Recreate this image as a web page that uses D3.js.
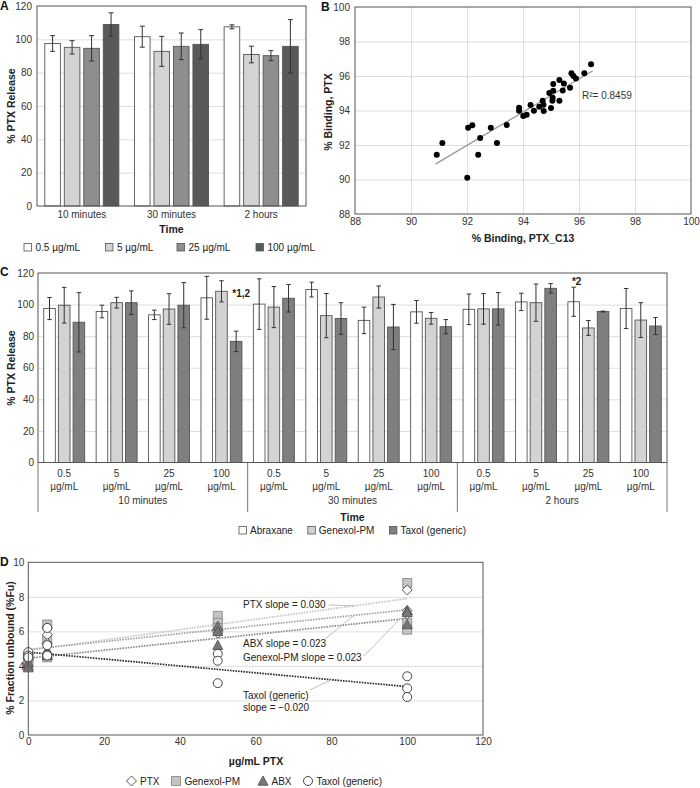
<!DOCTYPE html>
<html><head><meta charset="utf-8">
<script src="https://cdn.jsdelivr.net/npm/d3@7"></script>
<style>
body{margin:0;background:#fff;}
svg{display:block;font-family:"Liberation Sans",Arial,Helvetica,sans-serif;}
</style></head><body>
<svg id="chart" width="700" height="788"></svg>
<script>
// ================= DATA =================
// Panel A
const timeGroupsA = ["10 minutes", "30 minutes", "2 hours"];
const concSeriesA = ["0.5 µg/mL", "5 µg/mL", "25 µg/mL", "100 µg/mL"];
const releaseA_05 = [97.5, 101.6, 107.5];
const releaseA_05_err = [4.7, 6.3, 1.2];
const releaseA_5 = [95.2, 92.8, 90.9];
const releaseA_5_err = [4.0, 9.0, 5.0];
const releaseA_25 = [94.6, 95.8, 90.2];
const releaseA_25_err = [7.6, 8.0, 3.0];
const releaseA_100 = [108.9, 97.0, 95.8];
const releaseA_100_err = [7.0, 8.8, 16.0];
const yTicksA = [0, 20, 40, 60, 80, 100, 120];

// Panel B
const bindingC13 = [90.92, 91.12, 92.01, 92.04, 92.19, 92.40, 92.47, 92.85, 93.07, 93.42, 93.86, 93.86,
  94.01, 94.13, 94.27, 94.39, 94.58, 94.70, 94.74, 94.73, 94.94, 95.00, 95.05, 95.06, 95.08, 95.08,
  95.30, 95.30, 95.42, 95.46, 95.68, 95.73, 95.80, 95.89, 96.19, 96.43];
const bindingPTX = [91.44, 92.12, 90.10, 93.00, 93.14, 91.44, 92.41, 93.00, 92.12, 93.16, 94.16, 93.99,
  93.68, 93.76, 94.32, 93.99, 94.22, 94.57, 93.97, 94.34, 95.01, 94.14, 94.57, 94.74, 95.54, 95.15,
  95.77, 94.57, 95.16, 95.57, 95.32, 96.16, 96.00, 95.86, 96.16, 96.68];
const r2Label = "R²= 0.8459";
const ticksB = [88, 90, 92, 94, 96, 98, 100];

// Panel C
const timeGroupsC = ["10 minutes", "30 minutes", "2 hours"];
const concValuesC = ["0.5", "5", "25", "100"];
const concUnitC = "µg/mL";
const formulationsC = ["Abraxane", "Genexol-PM", "Taxol (generic)"];
const releaseC_abraxane = [97.5, 95.6, 93.5, 104.3, 100.3, 109.5, 90.0, 95.4, 97.0, 101.7, 101.8, 97.5];
const releaseC_abraxane_err = [7.0, 4.0, 3.0, 13.6, 16.0, 4.7, 8.4, 7.2, 9.7, 5.5, 9.2, 12.7];
const releaseC_genexol = [99.6, 101.2, 97.2, 108.4, 98.4, 93.0, 104.8, 91.3, 97.3, 101.2, 85.2, 90.2];
const releaseC_genexol_err = [11.3, 3.4, 9.7, 6.7, 13.0, 14.0, 7.0, 3.7, 9.7, 11.8, 4.7, 11.0];
const releaseC_taxol = [88.8, 101.2, 99.6, 76.7, 104.0, 91.2, 85.8, 86.0, 97.3, 110.3, 95.6, 86.4];
const releaseC_taxol_err = [18.8, 7.5, 14.3, 6.5, 8.7, 10.0, 14.3, 4.5, 10.3, 3.0, 0.3, 5.4];
const yTicksC = [0, 20, 40, 60, 80, 100, 120];
const annotC_text = ["*1,2", "*2"];
const annotC_index = [3, 10];
const annotC_form = ["Genexol-PM", "Abraxane"];

// Panel D
const doseD = [0, 5, 50, 100];
const fuPTX = [[4.7, 4.5, 4.4], [6.2, 5.8, 5.3], [6.1, 6.0, 5.9], [8.4, 7.2, 7.0]];
const fuGenexol = [[4.3, 4.1, 4.5], [6.4, 5.5, 4.5], [6.9, 6.5, 6.2], [8.8, 6.5, 6.1]];
const fuABX = [[4.0, 4.2, 3.9], [4.9, 4.7, 4.6], [6.3, 6.0, 5.2], [7.2, 7.1, 6.4]];
const fuTaxol = [[4.8, 4.6, 4.5], [6.2, 5.2, 4.6], [4.7, 4.3, 3.0], [3.4, 2.7, 2.2]];
const trendNames = ["PTX", "ABX", "Genexol-PM", "Taxol (generic)"];
const trendSlopes = [0.030, 0.023, 0.023, -0.020];
const trendIntercepts = [4.9, 4.95, 4.45, 4.8];
const trendLabels = [["PTX slope = 0.030"], ["ABX slope = 0.023"], ["Genexol-PM slope = 0.023"], ["Taxol (generic)", " slope = \u22120.020"]];
const legendD = ["PTX", "Genexol-PM", "ABX", "Taxol (generic)"];
const xTicksD = [0, 20, 40, 60, 80, 100, 120];
const yTicksD = [0, 2, 4, 6, 8, 10];

// ================= HELPERS =================
const svg = d3.select("#chart");
const FS = 10;
const INK = "#222";
function txt(g, x, y, s, o = {}) {
  return g.append("text").attr("x", x).attr("y", y).text(s)
    .attr("font-size", o.size || FS).attr("font-weight", o.bold ? "bold" : "normal")
    .attr("text-anchor", o.anchor || "start").attr("dominant-baseline", "central")
    .attr("fill", o.fill || INK);
}
function vtitle(x, y, s) {
  svg.append("text").attr("transform", `translate(${x},${y}) rotate(-90)`)
    .attr("text-anchor", "middle").attr("dominant-baseline", "central")
    .attr("font-size", 10.5).attr("font-weight", "bold").attr("fill", INK).text(s);
}
function hgrid(y, ticks, x0, x1) {
  svg.append("g").attr("transform", `translate(${x0},0)`)
    .call(d3.axisLeft(y).tickValues(ticks).tickSize(-(x1 - x0)).tickFormat(""))
    .call(s => { s.select(".domain").remove(); s.selectAll("line").attr("stroke", "#dedede"); });
}
function vgrid(x, ticks, y0, y1) {
  svg.append("g").attr("transform", `translate(0,${y1})`)
    .call(d3.axisBottom(x).tickValues(ticks).tickSize(-(y1 - y0)).tickFormat(""))
    .call(s => { s.select(".domain").remove(); s.selectAll("line").attr("stroke", "#dedede"); });
}
function yLabels(y, ticks, x0, pad) {
  svg.append("g").attr("transform", `translate(${x0},0)`)
    .call(d3.axisLeft(y).tickValues(ticks).tickSize(0).tickPadding(pad))
    .call(s => { s.select(".domain").remove(); s.attr("font-family", null);
      s.selectAll("text").attr("font-size", FS).attr("fill", "#333"); });
}
function xLabels(x, ticks, y0, pad) {
  const ax = d3.axisBottom(x).tickSize(0).tickPadding(pad);
  if (ticks) ax.tickValues(ticks);
  svg.append("g").attr("transform", `translate(0,${y0})`).call(ax)
    .call(s => { s.select(".domain").remove(); s.attr("font-family", null);
      s.selectAll("text").attr("font-size", FS).attr("fill", "#333"); });
}
function border(x0, y0, x1, y1) {
  svg.append("rect").attr("x", x0).attr("y", y0).attr("width", x1 - x0).attr("height", y1 - y0)
    .attr("fill", "none").attr("stroke", "#555").attr("stroke-width", 1);
}
function errBar(g, cx, yHi, yLo, cap, color) {
  g.append("line").attr("x1", cx).attr("x2", cx).attr("y1", yHi).attr("y2", yLo).attr("stroke", color).attr("stroke-width", 1);
  g.append("line").attr("x1", cx - cap / 2).attr("x2", cx + cap / 2).attr("y1", yHi).attr("y2", yHi).attr("stroke", color).attr("stroke-width", 1);
  g.append("line").attr("x1", cx - cap / 2).attr("x2", cx + cap / 2).attr("y1", yLo).attr("y2", yLo).attr("stroke", color).attr("stroke-width", 1);
}
function panelLabel(x, y, s) { txt(svg, x, y, s, { size: 12, bold: true, fill: "#111" }); }

// ================= PANEL A =================
(function () {
  const P = { x0: 37, x1: 306, y0: 6, y1: 206 };
  const fills = ["#ffffff", "#d3d3d3", "#8e8e8e", "#595959"];
  const series = [
    { name: concSeriesA[0], v: releaseA_05, e: releaseA_05_err },
    { name: concSeriesA[1], v: releaseA_5, e: releaseA_5_err },
    { name: concSeriesA[2], v: releaseA_25, e: releaseA_25_err },
    { name: concSeriesA[3], v: releaseA_100, e: releaseA_100_err }];
  const x = d3.scaleBand().domain(timeGroupsA).range([P.x0, P.x1]);
  const xi = d3.scaleBand().domain(concSeriesA).range([0, x.bandwidth()]).paddingInner(0.2).paddingOuter(0.4);
  const y = d3.scaleLinear().domain([0, 120]).range([P.y1, P.y0]);
  hgrid(y, yTicksA.slice(1, -1), P.x0, P.x1);
  const g = svg.append("g");
  series.forEach((s, si) => {
    timeGroupsA.forEach((t, ti) => {
      const bx = x(t) + xi(s.name);
      g.append("rect").attr("x", bx).attr("y", y(s.v[ti])).attr("width", xi.bandwidth())
        .attr("height", y(0) - y(s.v[ti])).attr("fill", fills[si]).attr("stroke", "#555").attr("stroke-width", 0.9);
    });
  });
  series.forEach((s) => {
    timeGroupsA.forEach((t, ti) => {
      const cx = x(t) + xi(s.name) + xi.bandwidth() / 2;
      errBar(g, cx, y(s.v[ti] + s.e[ti]), y(s.v[ti] - s.e[ti]), 5, "#333");
    });
  });
  border(P.x0, P.y0, P.x1, P.y1);
  yLabels(y, yTicksA, P.x0, 5);
  xLabels(x, null, P.y1, 5);
  txt(svg, (P.x0 + P.x1) / 2, 229, "Time", { size: 10.5, bold: true, anchor: "middle" });
  vtitle(11, 106, "% PTX Release");
  panelLabel(0, 6, "A");
  const lx = [24, 105.5, 177, 256];
  series.forEach((s, si) => {
    svg.append("rect").attr("x", lx[si]).attr("y", 243.5).attr("width", 7.5).attr("height", 7.5)
      .attr("fill", fills[si]).attr("stroke", "#555").attr("stroke-width", 0.8);
    txt(svg, lx[si] + 11.5, 247.5, s.name);
  });
})();

// ================= PANEL B =================
(function () {
  const P = { x0: 355, x1: 691, y0: 7, y1: 214 };
  const x = d3.scaleLinear().domain([88, 100]).range([P.x0, P.x1]);
  const y = d3.scaleLinear().domain([88, 100]).range([P.y1, P.y0]);
  hgrid(y, ticksB.slice(1, -1), P.x0, P.x1);
  vgrid(x, ticksB.slice(1, -1), P.y0, P.y1);
  const pts = bindingC13.map((v, i) => [v, bindingPTX[i]]);
  const mx = d3.mean(pts, d => d[0]), my = d3.mean(pts, d => d[1]);
  const sxy = d3.sum(pts, d => (d[0] - mx) * (d[1] - my)), sxx = d3.sum(pts, d => (d[0] - mx) ** 2);
  const b = sxy / sxx, a = my - b * mx;
  const ext = d3.extent(bindingC13);
  svg.append("line").attr("x1", x(ext[0] - 0.05)).attr("x2", x(ext[1] + 0.05))
    .attr("y1", y(a + b * (ext[0] - 0.05))).attr("y2", y(a + b * (ext[1] + 0.05)))
    .attr("stroke", "#999").attr("stroke-width", 1.3);
  svg.append("g").selectAll("circle").data(pts).join("circle")
    .attr("cx", d => x(d[0])).attr("cy", d => y(d[1])).attr("r", 3).attr("fill", "#000");
  border(P.x0, P.y0, P.x1, P.y1);
  yLabels(y, ticksB, P.x0, 5);
  xLabels(x, ticksB, P.y1, 4);
  txt(svg, 582, 95, r2Label, { fill: "#333" });
  txt(svg, 523, 238, "% Binding, PTX_C13", { size: 10.5, bold: true, anchor: "middle" });
  vtitle(328, 112, "% Binding, PTX");
  panelLabel(321, 7, "B");
})();

// ================= PANEL C =================
(function () {
  const P = { x0: 38, x1: 667, y0: 273, y1: 462.5 };
  const fills = ["#ffffff", "#d3d3d3", "#7f7f7f"];
  const series = [
    { name: formulationsC[0], v: releaseC_abraxane, e: releaseC_abraxane_err },
    { name: formulationsC[1], v: releaseC_genexol, e: releaseC_genexol_err },
    { name: formulationsC[2], v: releaseC_taxol, e: releaseC_taxol_err }];
  const xt = d3.scaleBand().domain(timeGroupsC).range([P.x0, P.x1]);
  const xc = d3.scaleBand().domain(concValuesC).range([0, xt.bandwidth()]);
  const xf = d3.scaleBand().domain(formulationsC).range([0, xc.bandwidth()]).paddingInner(0.21).paddingOuter(0.39);
  const y = d3.scaleLinear().domain([0, 120]).range([P.y1, P.y0]);
  const bx = (k, f) => xt(timeGroupsC[Math.floor(k / 4)]) + xc(concValuesC[k % 4]) + xf(f);
  hgrid(y, yTicksC.slice(1, -1), P.x0, P.x1);
  const g = svg.append("g");
  series.forEach((s, si) => {
    s.v.forEach((v, k) => {
      g.append("rect").attr("x", bx(k, s.name)).attr("y", y(v)).attr("width", xf.bandwidth())
        .attr("height", y(0) - y(v)).attr("fill", fills[si]).attr("stroke", "#555").attr("stroke-width", 0.9);
    });
  });
  series.forEach((s) => {
    s.v.forEach((v, k) => {
      errBar(g, bx(k, s.name) + xf.bandwidth() / 2, y(v + s.e[k]), y(v - s.e[k]), 4.5, "#333");
    });
  });
  border(P.x0, P.y0, P.x1, P.y1);
  yLabels(y, yTicksC, P.x0, 4);
  // hierarchical x axis
  timeGroupsC.forEach((t) => {
    concValuesC.forEach((c) => {
      const cx = xt(t) + xc(c) + xc.bandwidth() / 2;
      txt(svg, cx, 473, c, { anchor: "middle", fill: "#333" });
      txt(svg, cx, 486, concUnitC, { anchor: "middle", fill: "#333" });
    });
    txt(svg, xt(t) + xt.bandwidth() / 2, 500.5, t, { anchor: "middle", fill: "#333" });
  });
  timeGroupsC.concat([null]).forEach((t) => {
    const sx = t === null ? P.x1 : xt(t);
    svg.append("line").attr("x1", sx).attr("x2", sx).attr("y1", P.y1).attr("y2", 512)
      .attr("stroke", "#666").attr("stroke-width", 0.9);
  });
  // annotations
  annotC_text.forEach((s, i) => {
    const k = annotC_index[i], f = annotC_form[i];
    const ser = series.find(d => d.name === f);
    if (i === 0) {
      txt(svg, bx(k, f) + xf.bandwidth() + 5, y(ser.v[k]) + 2, s, { bold: true, size: 10 });
    } else {
      txt(svg, bx(k, f) + xf.bandwidth() / 2 + 3, y(ser.v[k] + ser.e[k]) - 6, s, { bold: true, size: 10, anchor: "middle" });
    }
  });
  txt(svg, (P.x0 + P.x1) / 2, 516.5, "Time", { size: 10.5, bold: true, anchor: "middle" });
  vtitle(11, 368, "% PTX Release");
  panelLabel(0, 272, "C");
  // legend, centered
  const lg = svg.append("g");
  let cx = 0;
  const items = [];
  formulationsC.forEach((f, i) => {
    const r = lg.append("rect").attr("x", cx).attr("y", 526.5).attr("width", 7.5).attr("height", 7.5)
      .attr("fill", fills[i]).attr("stroke", "#555").attr("stroke-width", 0.8);
    const t = txt(lg, cx + 11, 530.5, f);
    cx += 11 + t.node().getComputedTextLength() + 15;
  });
  const total = cx - 15;
  lg.attr("transform", `translate(${(P.x0 + P.x1) / 2 - total / 2},0)`);
})();

// ================= PANEL D =================
(function () {
  const P = { x0: 28.3, x1: 483, y0: 562.3, y1: 735 };
  const x = d3.scaleLinear().domain([0, 120]).range([P.x0, P.x1]);
  const y = d3.scaleLinear().domain([0, 10]).range([P.y1, P.y0]);
  hgrid(y, yTicksD.slice(1, -1), P.x0, P.x1);
  // trend lines
  const tStroke = ["#c6c6c6", "#a4a4a4", "#8a8a8a", "#2a2a2a"];
  trendNames.forEach((n, i) => {
    svg.append("line").attr("x1", x(0)).attr("x2", x(100))
      .attr("y1", y(trendIntercepts[i])).attr("y2", y(trendIntercepts[i] + trendSlopes[i] * 100))
      .attr("stroke", tStroke[i]).attr("stroke-width", 1.7).attr("stroke-dasharray", "1.6,1.1");
  });
  // markers
  const shapes = {
    "PTX": { path: "M0,-5L5,0L0,5L-5,0Z", fill: "#ffffff", stroke: "#444" },
    "Genexol-PM": { path: "M-4.5,-4.5H4.5V4.5H-4.5Z", fill: "#c4c4c4", stroke: "#8a8a8a" },
    "ABX": { path: "M0,-5L5,4.2L-5,4.2Z", fill: "#787878", stroke: "#555" },
    "Taxol (generic)": { path: null, fill: "#ffffff", stroke: "#333" }
  };
  const order = [["Genexol-PM", fuGenexol], ["PTX", fuPTX], ["ABX", fuABX], ["Taxol (generic)", fuTaxol]];
  function marker(g, name, px, py) {
    const s = shapes[name];
    if (s.path) g.append("path").attr("d", s.path).attr("transform", `translate(${px},${py})`)
      .attr("fill", s.fill).attr("stroke", s.stroke).attr("stroke-width", 0.9);
    else g.append("circle").attr("cx", px).attr("cy", py).attr("r", 4.5)
      .attr("fill", s.fill).attr("stroke", s.stroke).attr("stroke-width", 0.9);
  }
  const mg = svg.append("g");
  order.forEach(([name, arr]) => {
    arr.forEach((vals, di) => vals.forEach(v => marker(mg, name, x(doseD[di]), y(v))));
  });
  // trend labels with leaders
  const labelPos = [[243, 604], [243, 643], [243, 657], [243, 695]];
  const leaderFrom = [[329, 605], [325, 639], [364, 656], [310, 690]];
  const leaderAtX = [86, 86, 98, 80];
  trendLabels.forEach((lines, i) => {
    lines.forEach((l, j) => txt(svg, labelPos[i][0], labelPos[i][1] + j * 12, l, { fill: "#222" }));
    svg.append("line").attr("x1", leaderFrom[i][0]).attr("y1", leaderFrom[i][1])
      .attr("x2", x(leaderAtX[i])).attr("y2", y(trendIntercepts[i] + trendSlopes[i] * leaderAtX[i]))
      .attr("stroke", "#b0b0b0").attr("stroke-width", 0.8);
  });
  border(P.x0, P.y0, P.x1, P.y1);
  yLabels(y, yTicksD, P.x0, 4);
  xLabels(x, xTicksD, P.y1, 3);
  txt(svg, 256, 761, "µg/mL PTX", { size: 10.5, bold: true, anchor: "middle" });
  vtitle(10, 648, "% Fraction unbound (%Fu)");
  panelLabel(0, 562, "D");
  const lx = [131.5, 176, 263, 308];
  legendD.forEach((n, i) => {
    marker(svg, n, lx[i], 781);
    txt(svg, lx[i] + 8.5, 781, n);
  });
})();
</script>
</body></html>
